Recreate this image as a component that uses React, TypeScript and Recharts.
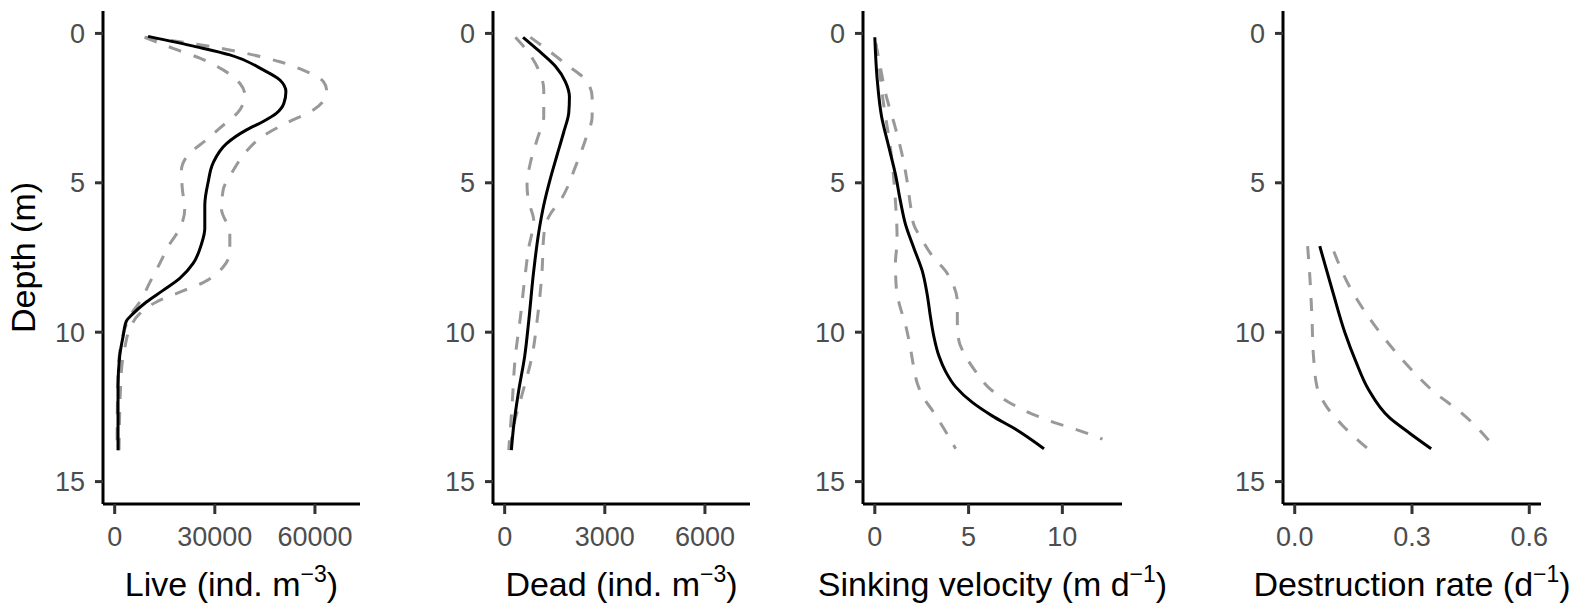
import React from 'react';
import { LineChart, Line, XAxis, YAxis } from 'recharts';

const FONT = '"Liberation Sans", Arial, Helvetica, sans-serif';

// ---------- Depth axis ----------
const depthTicks = [0, 5, 10, 15];

// ---------- Panel 1: Live (ind. m^-3) ----------
const liveTicks = [0, 30000, 60000];
const liveMeanDepth = [0.1, 0.45, 0.72, 1.22, 1.56, 1.95, 2.34, 2.67, 2.95, 3.23, 3.69, 4.33, 4.98, 5.75, 6.53, 7.05, 7.7, 8.2, 8.6, 8.99, 9.38, 9.63, 10.15, 10.8, 11.83, 13.95];
const liveMean = [10000, 24500, 34500, 44500, 49500, 51300, 50700, 48500, 44500, 39500, 33500, 29500, 28000, 27000, 27000, 26000, 23500, 19500, 14500, 9500, 5500, 3500, 2500, 1500, 1000, 1000];
const liveLowDepth = [0.13, 0.5, 0.83, 1.22, 1.67, 2.06, 2.56, 3.17, 3.56, 4.07, 4.59, 5.24, 5.88, 6.53, 7.05, 7.7, 8.34, 8.99, 9.38, 9.9, 10.54, 11.31, 13.95];
const liveLow = [9000, 17500, 25500, 32500, 37500, 39000, 37500, 31500, 27500, 22000, 20000, 20300, 21000, 19500, 16500, 13500, 10500, 7500, 5000, 3000, 1700, 1000, 700];
const liveHighDepth = [0.13, 0.28, 0.45, 0.67, 0.95, 1.28, 1.61, 1.89, 2.17, 2.56, 3.0, 3.43, 3.94, 4.59, 5.24, 5.88, 6.66, 7.3, 7.82, 8.34, 8.66, 8.99, 9.38, 9.9, 10.54, 11.31, 13.95];
const liveHigh = [9000, 19500, 29500, 39500, 49500, 57500, 62500, 63500, 63000, 59500, 51500, 44500, 39500, 35500, 32500, 32000, 34500, 34500, 32500, 26500, 19500, 12500, 7500, 4500, 3000, 2000, 1300];

// ---------- Panel 2: Dead (ind. m^-3) ----------
const deadTicks = [0, 3000, 6000];
const deadMeanDepth = [0.13, 0.58, 1.1, 1.62, 2.13, 2.65, 3.3, 4.07, 4.85, 5.75, 6.66, 7.95, 9.63, 10.8, 11.96, 13.13, 13.95];
const deadMean = [550, 1020, 1520, 1820, 1940, 1920, 1770, 1570, 1370, 1170, 1020, 870, 720, 600, 420, 270, 200];
const deadLowDepth = [0.13, 0.58, 1.23, 1.88, 2.78, 3.56, 4.33, 5.11, 5.63, 6.27, 7.18, 8.21, 9.5, 10.8, 12.48, 13.95];
const deadLow = [320, 670, 1020, 1170, 1170, 970, 770, 670, 720, 870, 720, 600, 470, 320, 220, 120];
const deadHighDepth = [0.13, 0.58, 1.1, 1.55, 2.13, 2.78, 3.56, 4.46, 5.5, 6.14, 6.79, 7.95, 9.63, 10.8, 12.09, 13.13, 13.95];
const deadHigh = [770, 1320, 1920, 2420, 2620, 2620, 2420, 2120, 1720, 1320, 1170, 1120, 970, 820, 520, 270, 170];

// ---------- Panel 3: Sinking velocity (m d^-1) ----------
const sinkTicks = [0, 5, 10];
const sinkMeanDepth = [0.13, 1.49, 2.78, 3.81, 4.72, 5.63, 6.4, 7.18, 7.95, 8.73, 9.5, 10.15, 10.8, 11.31, 11.83, 12.35, 12.8, 13.25, 13.9];
const sinkMean = [0, 0.12, 0.36, 0.75, 1.1, 1.37, 1.64, 2.08, 2.53, 2.79, 2.97, 3.15, 3.42, 3.77, 4.31, 5.2, 6.26, 7.51, 9.02];
const sinkLowDepth = [0.32, 0.84, 2.0, 4.33, 5.63, 6.92, 7.69, 8.47, 8.99, 9.76, 10.54, 11.19, 11.7, 12.22, 12.61, 13.13, 13.9];
const sinkLow = [0.04, 0.18, 0.39, 0.93, 1.1, 1.19, 1.1, 1.14, 1.28, 1.64, 1.9, 2.08, 2.26, 2.62, 3.06, 3.59, 4.31];
const sinkHighDepth = [0.32, 0.84, 2.0, 3.17, 4.07, 4.98, 5.75, 6.4, 6.92, 7.44, 7.95, 8.47, 8.99, 9.63, 10.28, 10.8, 11.31, 11.96, 12.41, 12.74, 13.0, 13.25, 13.58];
const sinkHigh = [0.04, 0.21, 0.57, 1.1, 1.46, 1.73, 1.9, 2.08, 2.53, 3.06, 3.77, 4.22, 4.4, 4.4, 4.48, 4.84, 5.37, 6.26, 7.33, 8.4, 9.47, 10.71, 12.14];

// ---------- Panel 4: Destruction rate (d^-1) ----------
const destTicks = [0, 0.3, 0.6];
const destMeanDepth = [7.12, 8.68, 10.0, 11.0, 11.9, 12.87, 13.38, 13.9];
const destMean = [0.064, 0.098, 0.128, 0.157, 0.188, 0.243, 0.294, 0.349];
const destLowDepth = [7.12, 8.21, 9.5, 10.8, 11.83, 12.48, 13.13, 13.9];
const destLow = [0.033, 0.039, 0.044, 0.048, 0.057, 0.081, 0.123, 0.187];
const destHighDepth = [7.3, 8.47, 9.38, 10.28, 11.19, 11.96, 12.74, 13.9];
const destHigh = [0.1, 0.14, 0.183, 0.234, 0.294, 0.353, 0.43, 0.515];

type Pt = { depth: number; v: number };
const zip = (d: number[], v: number[]): Pt[] => d.map((depth, i) => ({ depth, v: v[i] }));

type PanelCfg = {
  id: string;
  plotLeft: number;
  plotWidth: number;
  domain: [number, number];
  ticks: number[];
  fmt: (v: number) => string;
  title: [string, string, string];
  mean: Pt[];
  low: Pt[];
  high: Pt[];
  showDepthTitle: boolean;
};

const panels: PanelCfg[] = [
  {
    id: 'live', plotLeft: 103, plotWidth: 257, domain: [-3500, 73500], ticks: liveTicks,
    fmt: (v) => String(v), title: ['Live (ind. m', '\u22123', ')'],
    mean: zip(liveMeanDepth, liveMean), low: zip(liveLowDepth, liveLow), high: zip(liveHighDepth, liveHigh),
    showDepthTitle: true,
  },
  {
    id: 'dead', plotLeft: 493, plotWidth: 257, domain: [-350, 7350], ticks: deadTicks,
    fmt: (v) => String(v), title: ['Dead (ind. m', '\u22123', ')'],
    mean: zip(deadMeanDepth, deadMean), low: zip(deadLowDepth, deadLow), high: zip(deadHighDepth, deadHigh),
    showDepthTitle: false,
  },
  {
    id: 'sink', plotLeft: 863, plotWidth: 259, domain: [-0.63, 13.18], ticks: sinkTicks,
    fmt: (v) => String(v), title: ['Sinking velocity (m d', '\u22121', ')'],
    mean: zip(sinkMeanDepth, sinkMean), low: zip(sinkLowDepth, sinkLow), high: zip(sinkHighDepth, sinkHigh),
    showDepthTitle: false,
  },
  {
    id: 'dest', plotLeft: 1283, plotWidth: 258, domain: [-0.03, 0.63], ticks: destTicks,
    fmt: (v) => v.toFixed(1), title: ['Destruction rate (d', '\u22121', ')'],
    mean: zip(destMeanDepth, destMean), low: zip(destLowDepth, destLow), high: zip(destHighDepth, destHigh),
    showDepthTitle: false,
  },
];

const YW = 103;
const TOP = 11;
const PLOT_BOTTOM = 504;
const H = 608;
const RIGHT = 60;
const BOTTOM_MARGIN = 8;

function XTitle(props: any) {
  const { cx, parts } = props;
  return (
    <text x={cx} y={596} textAnchor="middle" fontSize={34} fill="#000" fontFamily={FONT}>
      {parts[0]}
      <tspan dy={-14} fontSize={23}>{parts[1]}</tspan>
      <tspan dy={14}>{parts[2]}</tspan>
    </text>
  );
}

function DepthTitle() {
  const x = 35;
  const y = (TOP + PLOT_BOTTOM) / 2;
  return (
    <text x={x} y={y} transform={`rotate(-90, ${x}, ${y})`} textAnchor="middle" fontSize={34} fill="#000" fontFamily={FONT}>
      Depth (m)
    </text>
  );
}

function Panel({ p }: { p: PanelCfg }) {
  const width = YW + p.plotWidth + RIGHT;
  const xAxisHeight = H - BOTTOM_MARGIN - PLOT_BOTTOM;
  return (
    <div style={{ position: 'absolute', left: p.plotLeft - YW, top: 0, width, height: H }}>
      <LineChart
        layout="vertical"
        width={width}
        height={H}
        data={p.mean}
        margin={{ top: TOP, right: RIGHT, bottom: BOTTOM_MARGIN, left: 0 }}
      >
        <XAxis
          type="number"
          domain={p.domain}
          ticks={p.ticks}
          interval={0}
          allowDataOverflow
          tickFormatter={p.fmt}
          height={xAxisHeight}
          axisLine={{ stroke: '#000', strokeWidth: 3 }}
          tickLine={{ stroke: '#333', strokeWidth: 3 }}
          tickSize={10}
          tickMargin={13}
          tick={{ fill: '#4D4D4D', fontSize: 27, fontFamily: FONT }}
          label={<XTitle cx={YW + p.plotWidth / 2} parts={p.title} />}
        />
        <YAxis
          type="number"
          dataKey="depth"
          domain={[-0.75, 15.75]}
          ticks={depthTicks}
          interval={0}
          allowDataOverflow
          width={YW}
          axisLine={{ stroke: '#000', strokeWidth: 3 }}
          tickLine={{ stroke: '#333', strokeWidth: 3 }}
          tickSize={8}
          tickMargin={10}
          tick={{ fill: '#4D4D4D', fontSize: 27, fontFamily: FONT }}
          label={p.showDepthTitle ? <DepthTitle /> : undefined}
        />
        <Line
          key={p.id + '-low'}
          data={p.low}
          dataKey="v"
          type="monotone"
          stroke="#999999"
          strokeWidth={3}
          strokeDasharray="13 13"
          dot={false}
          activeDot={false}
          isAnimationActive={false}
        />
        <Line
          key={p.id + '-high'}
          data={p.high}
          dataKey="v"
          type="monotone"
          stroke="#999999"
          strokeWidth={3}
          strokeDasharray="13 13"
          dot={false}
          activeDot={false}
          isAnimationActive={false}
        />
        <Line
          key={p.id + '-mean'}
          data={p.mean}
          dataKey="v"
          type="monotone"
          stroke="#000000"
          strokeWidth={3}
          dot={false}
          activeDot={false}
          isAnimationActive={false}
        />
      </LineChart>
    </div>
  );
}

export default function App() {
  return (
    <div style={{ position: 'absolute', left: 0, top: 0, width: 1576, height: 608, background: '#fff', overflow: 'hidden' }}>
      {panels.map((p) => (
        <Panel key={p.id} p={p} />
      ))}
    </div>
  );
}
